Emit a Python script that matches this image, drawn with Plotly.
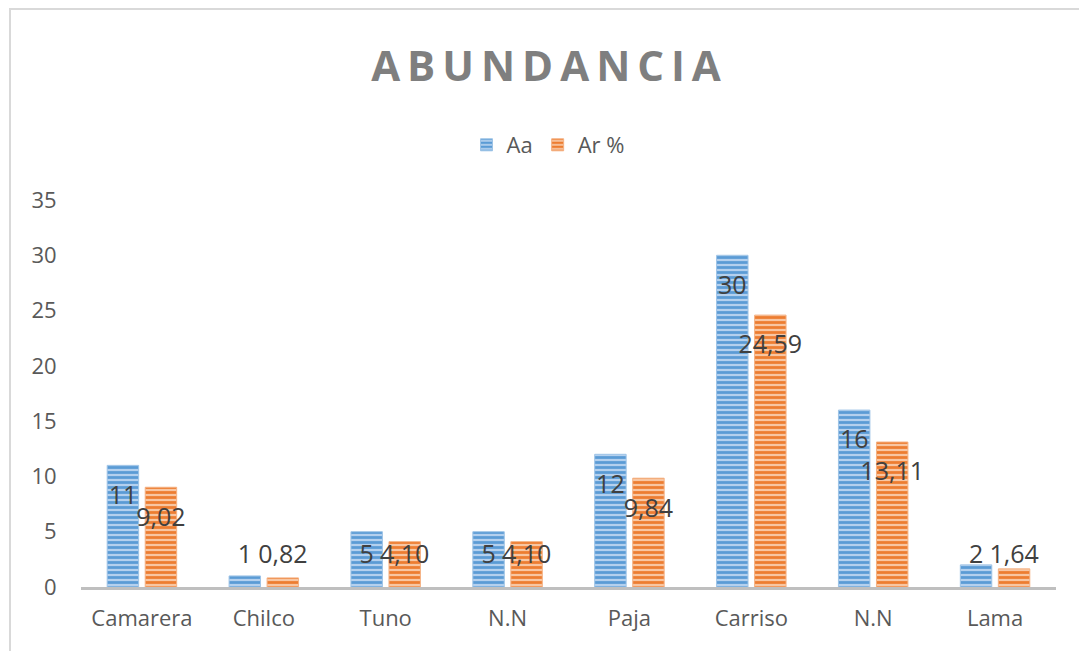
import plotly.graph_objects as go

categories = ["Camarera", "Chilco", "Tuno", "N.N", "Paja", "Carriso", "N.N", "Lama"]
aa_values = [11, 1, 5, 5, 12, 30, 16, 2]
ar_values = [9.02, 0.82, 4.10, 4.10, 9.84, 24.59, 13.11, 1.64]
y_ticks = [0, 5, 10, 15, 20, 25, 30, 35]

idx = list(range(len(categories)))
BAR_W = 0.258
OFF_A = -0.285
OFF_B = 0.027
LABEL_DROP = 2.9
LABEL_MIN = 2.7

FONT = "Open Sans"

# page body has an 8px margin; figure is sized/positioned to compensate
W, H = 1079, 643
L, R, T, B = 73, 31, 192, 64
PW, PH = W - L - R, H - T - B


def fmt_int(v):
    return str(int(v))


def fmt_dec(v):
    return f"{v:.2f}".replace(".", ",")


fig = go.Figure()

fig.add_trace(go.Bar(
    name="Aa", x=idx, y=aa_values, offset=OFF_A, width=BAR_W,
    marker=dict(color="#5B9BD5",
                line=dict(color="#9DC3E6", width=1),
                pattern=dict(shape="-", fillmode="replace", bgcolor="#B4D0EE",
                             fgcolor="#5B9BD5", size=5, solidity=0.55)),
    hoverinfo="skip",
))
fig.add_trace(go.Bar(
    name="Ar %", x=idx, y=ar_values, offset=OFF_B, width=BAR_W,
    marker=dict(color="#ED7D31",
                line=dict(color="#F4B183", width=1),
                pattern=dict(shape="-", fillmode="replace", bgcolor="#F8C6A2",
                             fgcolor="#ED7D31", size=5, solidity=0.55)),
    hoverinfo="skip",
))

# data labels
fig.add_trace(go.Scatter(
    x=[i + OFF_A + BAR_W / 2 for i in idx],
    y=[max(v - LABEL_DROP, LABEL_MIN) for v in aa_values],
    text=[fmt_int(v) for v in aa_values],
    mode="text", textposition="middle center",
    textfont=dict(family=FONT, size=25, color="#404040"),
    showlegend=False, hoverinfo="skip", cliponaxis=False,
))
fig.add_trace(go.Scatter(
    x=[i + OFF_B + BAR_W / 2 for i in idx],
    y=[max(v - LABEL_DROP, LABEL_MIN) for v in ar_values],
    text=[fmt_dec(v) for v in ar_values],
    mode="text", textposition="middle center",
    textfont=dict(family=FONT, size=25, color="#404040"),
    showlegend=False, hoverinfo="skip", cliponaxis=False,
))

title_text = "\u2009".join(list("ABUNDANCIA"))

fig.update_layout(
    width=W, height=H,
    paper_bgcolor="white", plot_bgcolor="white",
    margin=dict(l=L, r=R, t=T, b=B),
    barmode="overlay",
    font=dict(family=FONT, size=22, color="#595959"),
    title=dict(text=title_text, x=538 / W, xanchor="center", y=1 - 58 / H, yanchor="middle",
               font=dict(family=FONT, size=42, color="#7F7F7F", weight="bold")),
    legend=dict(orientation="h", x=(540 - L) / PW, xanchor="center", y=(579 - 137) / PH, yanchor="middle",
                font=dict(family=FONT, size=22, color="#595959"),
                bgcolor="rgba(0,0,0,0)", itemwidth=30, traceorder="normal"),
    xaxis=dict(range=[-0.5, len(categories) - 0.5], tickvals=idx, ticktext=categories,
               showgrid=False, zeroline=False, showline=True, linecolor="#BFBFBF", linewidth=3,
               ticks="outside", ticklen=10, tickcolor="rgba(0,0,0,0)",
               tickfont=dict(family=FONT, size=22, color="#595959")),
    yaxis=dict(range=[0, 35], tickvals=y_ticks, showgrid=False, zeroline=False, showline=False,
               ticks="outside", ticklen=19, tickcolor="rgba(0,0,0,0)",
               tickfont=dict(family=FONT, size=22, color="#595959")),
    shapes=[dict(type="rect", xref="paper", yref="paper",
                 x0=(2 - L) / PW, x1=(1077 - L) / PW,
                 y0=(H - B - 720) / PH, y1=(H - B - 1) / PH,
                 line=dict(color="#D9D9D9", width=2), fillcolor="rgba(0,0,0,0)", layer="below")],
)

fig.write_html("out.html")
